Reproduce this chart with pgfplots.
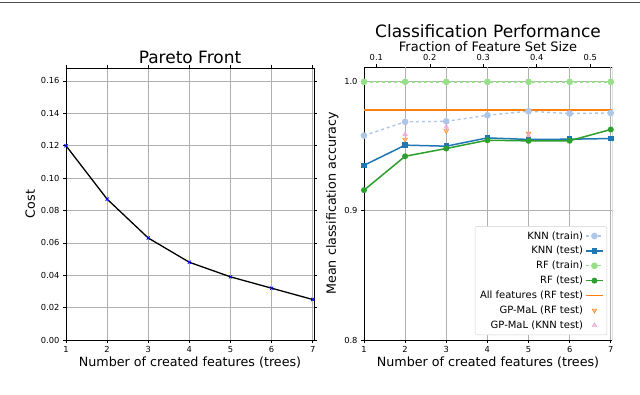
\documentclass[border=0pt]{standalone}
\usepackage{pgfplots}
\pgfplotsset{compat=1.18}
\usepackage{fontspec}
\setmainfont{DejaVu Sans}
\definecolor{tabblue}{HTML}{1F77B4}
\definecolor{lblue}{HTML}{AEC7E8}
\definecolor{tabgreen}{HTML}{2CA02C}
\definecolor{lgreen}{HTML}{98DF8A}
\definecolor{lineorange}{RGB}{255,127,14}
\definecolor{tabpink}{HTML}{E377C2}
\definecolor{gridgray}{HTML}{B0B0B0}
\begin{document}
\begin{tikzpicture}
\useasboundingbox (0pt,0pt) rectangle (640pt,395pt);
\draw[black!70, line width=0.8pt] (0pt,392.5pt) -- (640pt,392.5pt);
\pgfplotsset{
  mystyle/.style={
    scale only axis,
    anchor=south west,
    /pgf/number format/assume math mode=true,
    tick label style={font=\fontsize{8.3}{9}\selectfont},
    label style={font=\fontsize{12.7}{14}\selectfont},
    tick align=outside,
    tick style={black, line width=0.6pt},
    major tick length=3pt,
    axis line style={black, line width=0.9pt},
    grid style={gridgray, line width=0.6pt},
    xtick={1,2,3,4,5,6,7},
  }
}
% Left: Pareto front
\begin{axis}[mystyle,
  at={(66pt,55pt)}, width=248pt, height=272pt,
  xmin=1, xmax=7.03, ymin=0, ymax=0.168,
  ytick={0,0.02,0.04,0.06,0.08,0.10,0.12,0.14,0.16},
  yticklabel style={/pgf/number format/.cd, fixed, fixed zerofill, precision=2},
  grid=major,
  xlabel={Number of created features (trees)},
  ylabel={Cost},
  xlabel style={yshift=3pt},
  ylabel style={yshift=-1pt},
]
\addplot[color=black, line width=1.3pt, mark=x, mark size=2.2pt,
  mark options={blue, line width=0.8pt}] coordinates {
(1,0.120) (2,0.087) (3,0.063) (4,0.048) (5,0.039) (6,0.032) (7,0.025)
};
\end{axis}
\node[font=\fontsize{17}{19}\selectfont] at (190pt,338pt) {Pareto Front};
% Right: top axis (fraction)
\begin{axis}[
  scale only axis, anchor=south west,
  at={(364pt,55pt)}, width=248pt, height=273pt,
  xmin=1, xmax=7.03, ymin=0.8, ymax=1.011,
  axis x line*=top, axis y line=none,
  /pgf/number format/assume math mode=true,
  tick label style={font=\fontsize{8.3}{9}\selectfont},
  tick align=outside, tick style={black, line width=0.6pt},
  major tick length=3pt,
  axis line style={black, line width=0.9pt},
  xtick={1.3,2.6,3.9,5.2,6.5},
  xticklabels={0.1,0.2,0.3,0.4,0.5},
  xlabel={Fraction of Feature Set Size},
  xlabel style={font=\fontsize{13}{15}\selectfont, yshift=-4pt},
]
\end{axis}
\node[font=\fontsize{17}{19}\selectfont] at (488pt,364pt) {Classification Performance};
% Right: main axis
\begin{axis}[mystyle,
  at={(364pt,55pt)}, width=248pt, height=273pt,
  xmin=1, xmax=7.03, ymin=0.8, ymax=1.011,
  ytick={0.8,0.9,1.0},
  yticklabel style={/pgf/number format/.cd, fixed, fixed zerofill, precision=1},
  grid=major,
  axis x line*=bottom, axis y line*=left,
  xlabel={Number of created features (trees)},
  ylabel={Mean classification accuracy},
  xlabel style={yshift=3pt},
  ylabel style={yshift=-1pt},
  legend cell align=right,
  legend plot pos=right,
  legend style={at={(0.98,0.018)}, anchor=south east,
    font=\fontsize{10}{11}\selectfont, draw=gridgray!60, rounded corners=2pt,
    row sep=1.8pt, inner sep=3pt},
]
\draw[black, line width=0.9pt] (rel axis cs:1,0) -- (rel axis cs:1,1);
\addplot[color=lblue, dashed, line width=1.4pt, mark=*, mark size=2.6pt, mark options={solid}] coordinates {
(1,0.958) (2,0.9686) (3,0.969) (4,0.9737) (5,0.9768) (6,0.975) (7,0.9755)
};
\addlegendentry{KNN (train)}
\addplot[color=tabblue, line width=1.5pt, mark=square*, mark size=2pt] coordinates {
(1,0.935) (2,0.9506) (3,0.9498) (4,0.9562) (5,0.955) (6,0.9552) (7,0.9557)
};
\addlegendentry{KNN (test)}
\addplot[color=lgreen, dashed, line width=1.4pt, mark=*, mark size=2.6pt, mark options={solid}] coordinates {
(1,0.9995) (2,0.9995) (3,0.9995) (4,0.9995) (5,0.9995) (6,0.9995) (7,0.9995)
};
\addlegendentry{RF (train)}
\addplot[color=tabgreen, line width=1.5pt, mark=*, mark size=2.2pt] coordinates {
(1,0.9158) (2,0.942) (3,0.948) (4,0.9544) (5,0.9539) (6,0.954) (7,0.9627)
};
\addlegendentry{RF (test)}
\addplot[lineorange, line width=1.7pt,
  legend image code/.code={\draw[lineorange, line width=1.7pt] (0cm,0cm) -- (0.6cm,0cm);}] table {
x y
1 0.978
7.03 0.978
};
\addlegendentry{All features (RF test)}
\addplot[only marks, mark=triangle*, mark size=2.8pt,
  mark options={rotate=180, draw=lineorange, fill=lineorange!50}] coordinates {
(2,0.955) (3,0.9616) (5,0.9596)
};
\addlegendentry{GP-MaL (RF test)}
\addplot[only marks, mark=triangle*, mark size=2.8pt,
  mark options={draw=tabpink!70, fill=tabpink!60, opacity=0.8}] coordinates {
(2,0.9589) (3,0.9647) (5,0.958)
};
\addlegendentry{GP-MaL (KNN test)}
\end{axis}
\end{tikzpicture}
\end{document}
